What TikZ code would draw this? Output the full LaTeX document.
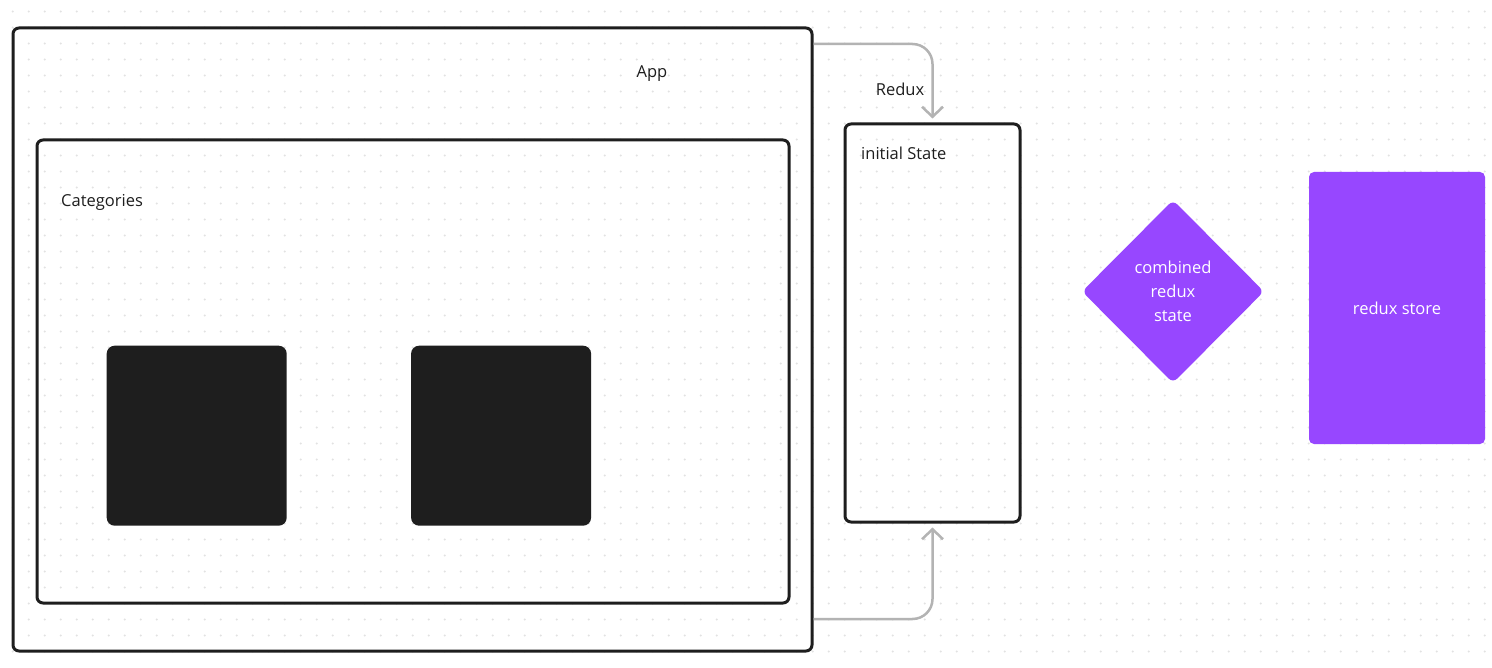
\documentclass[tikz,border=0pt]{standalone}
\usepackage{fontspec}
\setmainfont{Open Sans}
\usetikzlibrary{arrows.meta,positioning,shapes.geometric}
\definecolor{ink}{HTML}{1E1E1E}
\definecolor{purp}{HTML}{9747FF}
\definecolor{wire}{HTML}{B3B3B3}
\definecolor{dotc}{HTML}{E2E2E2}
\tikzset{
  boxframe/.style={draw=ink,line width=3pt,rounded corners=6pt,inner sep=0pt},
  card/.style={fill=ink,rounded corners=8pt,minimum width=180pt,minimum height=180pt},
  txt/.style={text=ink,font=\fontsize{16.5}{24}\selectfont,inner sep=0pt},
  blob/.style={fill=purp,text=white,font=\fontsize{16.5}{24}\selectfont,align=center,inner sep=0pt},
  flow/.style={->,draw=wire,line width=2.5pt,rounded corners=20pt,shorten >=4pt}
}
\begin{document}
\begin{tikzpicture}[x=1pt,y=-1pt,node distance=124pt,>={Straight Barb[length=10pt,width=21pt]}]
\useasboundingbox[fill=white] (0,0) rectangle (1492,668);
% dotted canvas
\foreach \i in {0,...,92}{
  \foreach \j in {0,...,40}{
    \fill[dotc] (12.75+16*\i,11.5+16*\j) circle (1.1pt);
  }
}
\node[boxframe,minimum width=799pt,minimum height=623pt] (app) at (412.5,339.5) {};
\node[boxframe,minimum width=752pt,minimum height=463pt] (cats) at (413,371.5) {};
\node[boxframe,minimum width=175pt,minimum height=398pt] (init) at (932.5,323) {};
\node[card] (card1) at (196.7,435.7) {};
\node[card] (card2) [right=of card1] {};
\node[txt] (appname) at (652,74) {App};
\node[txt,anchor=west] (catname) at (61,202) {Categories};
\node[txt,anchor=west] (initname) at (861,153) {initial State};
\node[txt] (reduxname) at (900,89) {Redux};
\node[blob,shape=diamond,rounded corners=6pt,minimum width=182pt,minimum height=183pt] (combined) at (1173,291.5) {combined\\redux\\ state};
\node[blob,rounded corners=5pt,minimum width=176pt,minimum height=272pt] (store) at (1397,308) {redux store};
\draw[flow] (app.east |- 0,44) -| (init.north);
\draw[flow] (app.east |- 0,619) -| (init.south);
\end{tikzpicture}
\end{document}
